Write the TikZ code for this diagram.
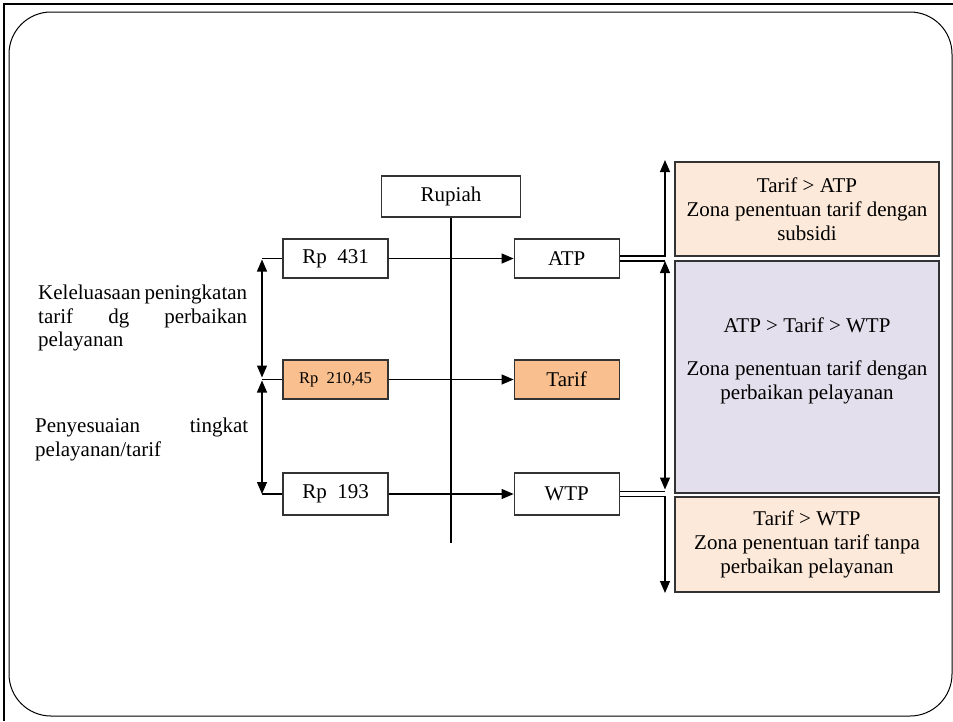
\documentclass[tikz,border=0pt]{standalone}
\usepackage{fontspec}
\setmainfont{Liberation Serif}
\usetikzlibrary{arrows.meta,
                positioning
                }
\definecolor{orng}{HTML}{F9BF8F}
\definecolor{peach}{HTML}{FDE9D9}
\definecolor{lilac}{HTML}{E4DFEC}

\begin{document}
\begin{tikzpicture}[x=1pt, y=-1pt,
    node distance = 74pt and 125pt,
    box/.style = {draw=black!80, line width=1.2pt, minimum width=105pt,
                  minimum height=39pt, inner sep=0pt,
                  font=\fontsize{21}{24}\selectfont},
    zone/.style = {draw=black!80, line width=1.2pt, minimum width=264pt,
                   inner sep=0pt, align=center,
                   font=\fontsize{21}{24}\selectfont},
    note/.style = {align=justify, inner sep=0pt, anchor=north west,
                   font={\fontsize{21}{23.5}\selectfont\hyphenpenalty=10000}},
    arr/.style = {line width=1.2pt, -{Triangle[length=12pt,width=10pt]}},
    arrs/.style = {line width=1.2pt,
                   {Triangle[length=12pt,width=10pt]}-{Triangle[length=12pt,width=10pt]}},
    conn/.style = {line width=1.2pt}
                    ]
\useasboundingbox (0,0) rectangle (953,721);
% frame
\draw[line width=2.5pt] (4,721) -- (4,4) -- (953,4);
\draw[line width=1pt, rounded corners=42pt] (9,12) rectangle (952,716);

% axis
\node (rup) [box, minimum width=139pt, minimum height=41pt] at (451,196.5) {Rupiah};
\coordinate (ax) at (451,543);
\draw[conn] (rup.south) -- (ax);

% values and levels
\node (n1) [box] at (335.5,258.5) {Rp\ \ 431};
\node (n2) [box, fill=orng, font=\fontsize{16.5}{18}\selectfont] at (335.5,379.5) {Rp\ \ 210,45};
\node (n3) [box, minimum height=42pt] at (335.5,494) {Rp\ \ 193};
\node (n4) [box, right=of n1] {ATP};
\node (n5) [box, fill=orng, right=of n2] {Tarif};
\node (n6) [box, minimum height=42pt, right=of n3] {WTP};
\draw[arr] (n1) -- (n4);
\draw[arr] (n2) -- (n5);
\draw[arr] (n3) -- (n6);

% left side
\coordinate (k1) at (262,258.5);
\coordinate (k2) at (262,379.5);
\coordinate (k3) at (262,494);
\draw[conn] (n1.west) -- (k1);
\draw[conn] (n2.west) -- (k2);
\draw[conn] (n3.west) -- (k3);
\draw[arrs] ([yshift=-1pt]k1) -- ([yshift=2pt]k2);
\draw[arrs] ([yshift=-1pt]k2) -- (k3);
\node (t1) [note, text width=209pt] at (38,285)
    {Keleluasaan peningkatan tarif dg perbaikan pelayanan};
\node (t2) [note, text width=213pt] at (35,418)
    {Penyesuaian tingkat pelayanan/tarif};

% zones
\node (z1) [zone, fill=peach, minimum height=94pt] at (807,209)
    {Tarif > ATP\\Zona penentuan tarif dengan\\subsidi};
\node (z2) [zone, fill=lilac, minimum height=232pt] at (807,377) {};
\node (t3) [zone, draw=none, minimum width=0pt] at ([yshift=16pt]z2.center)
    {ATP > Tarif > WTP\\[19pt]Zona penentuan tarif dengan\\perbaikan pelayanan};
\node (z3) [zone, fill=peach, minimum height=95pt] at (807,544.5)
    {Tarif > WTP\\Zona penentuan tarif tanpa\\perbaikan pelayanan};

% right side
\coordinate (r1) at (665,160);
\coordinate (r2) at (665,261);
\coordinate (r3) at (665,491.5);
\coordinate (r4) at (665,593);
\draw[arr] ([yshift=2.5pt]n4.east) -| (r1);
\draw[conn] ([yshift=-2.5pt]n4.east) -- (r2);
\draw[arrs] (r2) -- ([yshift=2pt]r3);
\draw[conn] ([yshift=2.5pt]n6.east) -- (r3);
\draw[arr] ([yshift=-2.5pt]n6.east) -| (r4);
\end{tikzpicture}
\end{document}
